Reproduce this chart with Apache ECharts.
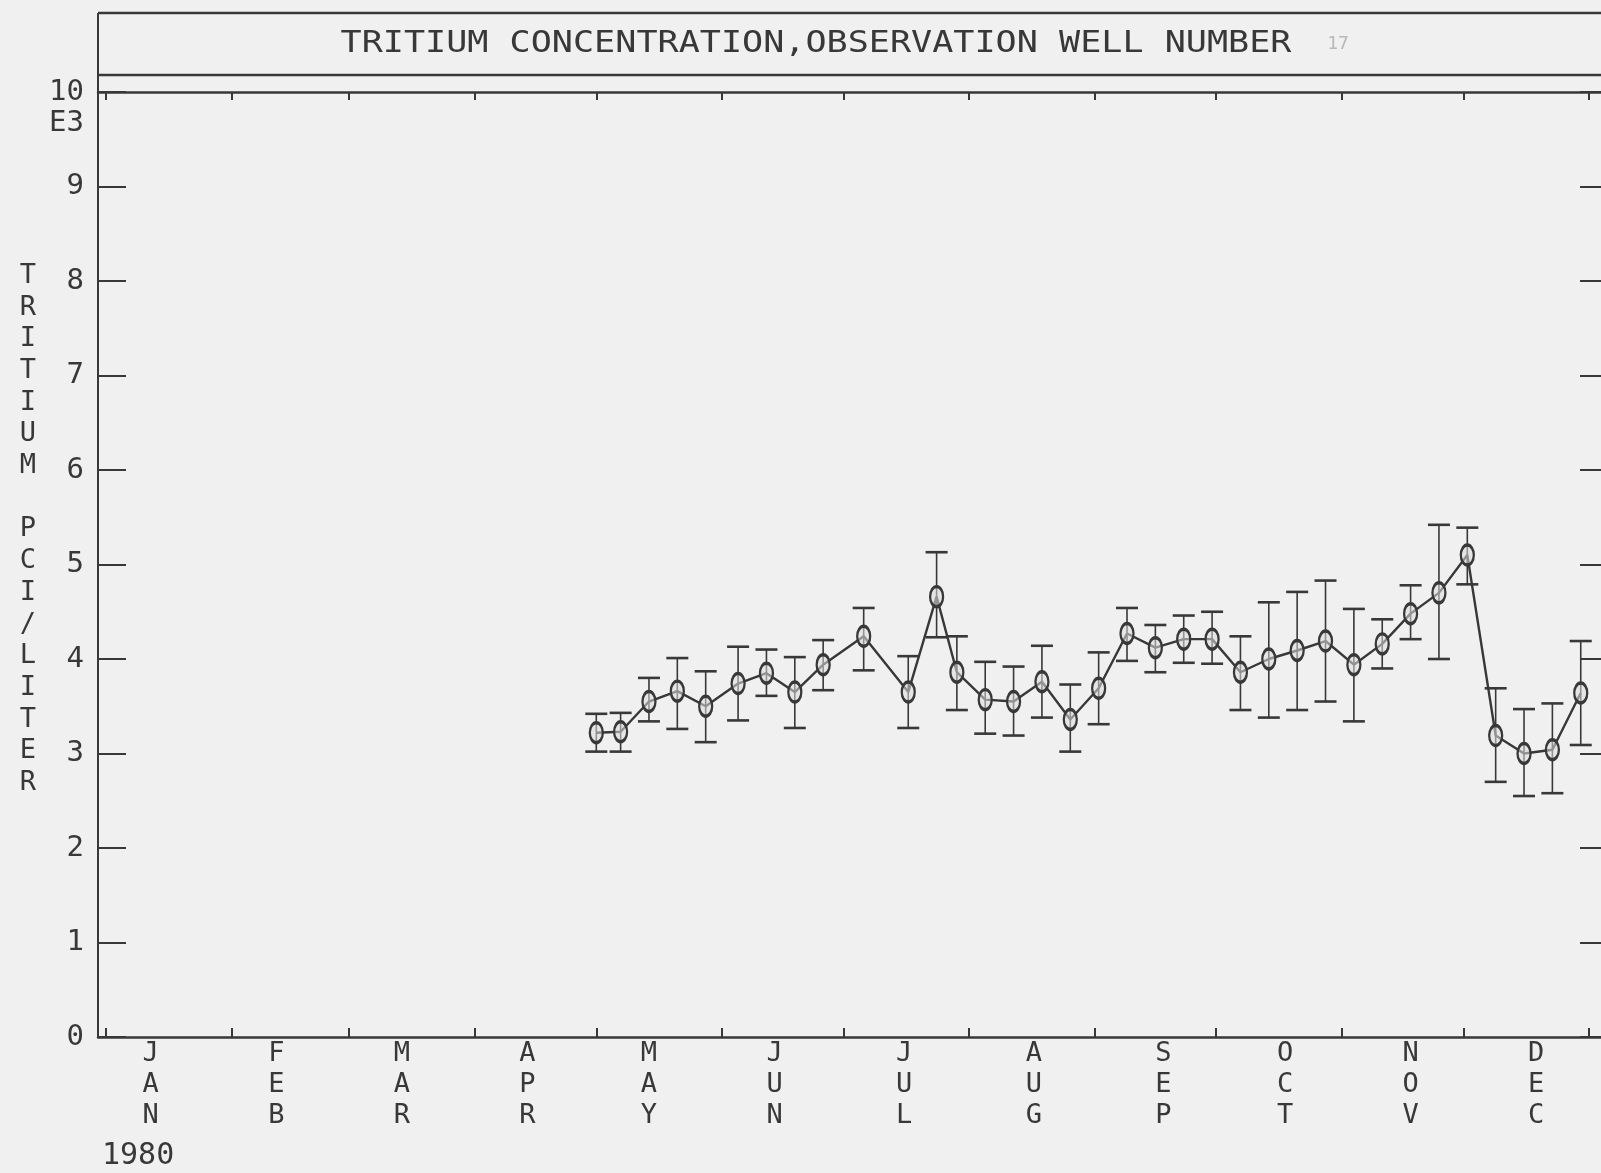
<!DOCTYPE html>
<html>
<head>
<meta charset="utf-8">
<script src="https://cdn.jsdelivr.net/npm/echarts@6/dist/echarts.min.js"></script>
<style>
  html, body { margin: 0; padding: 0; background: #f0f0f0; }
  #chart { width: 1601px; height: 1173px; }
</style>
</head>
<body>
<div id="chart"></div>
<script>
// Weekly tritium results for observation well 17, 1980 (units of 10E3 pCi/liter).
// Sample dates are day-of-year (0 = Jan 1).
const sampleDays = [121, 127, 134, 141, 148, 156, 163, 170, 177, 187, 198, 205,
  210, 217, 224, 231, 238, 245, 252, 259, 266, 273, 280, 287, 294, 301, 308,
  315, 322, 329, 336, 343, 350, 357, 364];
const tritium = [3.22, 3.23, 3.55, 3.66, 3.50, 3.74, 3.85, 3.65, 3.94, 4.24, 3.65, 4.66,
  3.86, 3.57, 3.55, 3.76, 3.36, 3.69, 4.27, 4.12, 4.21, 4.21, 3.86, 4.00, 4.09, 4.19,
  3.94, 4.16, 4.48, 4.70, 5.10, 3.19, 3.00, 3.04, 3.64];
const upperBound = [3.42, 3.43, 3.80, 4.01, 3.87, 4.13, 4.10, 4.02, 4.20, 4.54, 4.03, 5.13,
  4.24, 3.97, 3.92, 4.14, 3.73, 4.07, 4.54, 4.36, 4.46, 4.50, 4.24, 4.60, 4.71, 4.83,
  4.53, 4.42, 4.78, 5.42, 5.39, 3.69, 3.47, 3.53, 4.19];
const lowerBound = [3.02, 3.02, 3.34, 3.26, 3.12, 3.35, 3.61, 3.27, 3.67, 3.88, 3.27, 4.23,
  3.46, 3.21, 3.19, 3.38, 3.02, 3.31, 3.98, 3.86, 3.96, 3.95, 3.46, 3.38, 3.46, 3.55,
  3.34, 3.90, 4.21, 4.00, 4.79, 2.70, 2.55, 2.58, 3.09];

const monthNames = ['JAN', 'FEB', 'MAR', 'APR', 'MAY', 'JUN', 'JUL', 'AUG', 'SEP', 'OCT', 'NOV', 'DEC'];
const monthStartDays = [0, 31, 60, 91, 121, 152, 182, 213, 244, 274, 305, 335, 366];
const monthLabelDays = [11, 42, 73, 104, 134, 165, 197, 229, 261, 291, 322, 353];
const yearLabel = '1980';
const yMin = 0, yMax = 10, yStep = 1;

const titleText = 'TRITIUM CONCENTRATION,OBSERVATION WELL NUMBER';
const wellNumber = '17';
const yName = 'TRITIUM PCI/LITER';
const yUnit = 'E3';

// Day-by-day category axis so month ticks fall on real month boundaries.
const DAY_MIN = -2, DAY_MAX = 369;
const dayCats = [];
for (let d = DAY_MIN; d <= DAY_MAX; d++) dayCats.push(String(d));
const toIdx = d => d - DAY_MIN;

const INK = '#383838';
const MONO = '"DejaVu Sans Mono", monospace';

const lineData = sampleDays.map((d, i) => [toIdx(d), tritium[i]]);
const barData = sampleDays.map((d, i) => [toIdx(d), lowerBound[i], upperBound[i]]);

const chart = echarts.init(document.getElementById('chart'), null, { renderer: 'canvas' });

const isMonthStart = i => monthStartDays.indexOf(i + DAY_MIN) >= 0;
const isLabelDay = i => monthLabelDays.indexOf(i + DAY_MIN) >= 0;

chart.setOption({
  backgroundColor: '#f0f0f0',
  animation: false,
  grid: { left: 98, right: 0, top: 92, bottom: 136 },
  xAxis: [{
    type: 'category',
    data: dayCats,
    boundaryGap: false,
    position: 'bottom',
    axisLine: { onZero: false, lineStyle: { color: INK, width: 2.5 } },
    axisTick: { show: true, inside: true, length: 9, interval: isMonthStart,
      lineStyle: { color: INK, width: 2 } },
    axisLabel: {
      interval: isLabelDay,
      margin: 1,
      color: INK,
      fontFamily: MONO,
      fontSize: 27,
      lineHeight: 31,
      formatter: v => {
        const k = monthLabelDays.indexOf(Number(v));
        return k >= 0 ? monthNames[k].split('').join('\n') : '';
      }
    },
    splitLine: { show: false }
  }, {
    type: 'category',
    data: dayCats,
    boundaryGap: false,
    position: 'top',
    axisLine: { onZero: false, lineStyle: { color: INK, width: 2.5 } },
    axisTick: { show: true, inside: true, length: 8, interval: isMonthStart,
      lineStyle: { color: INK, width: 2 } },
    axisLabel: { show: false },
    splitLine: { show: false }
  }],
  yAxis: [{
    type: 'value',
    min: yMin, max: yMax, interval: yStep,
    position: 'left',
    axisLine: { show: true, lineStyle: { color: INK, width: 2 } },
    axisTick: { show: true, inside: true, length: 28, lineStyle: { color: INK, width: 2 } },
    axisLabel: { color: INK, fontFamily: MONO, fontSize: 29, margin: 14 },
    splitLine: { show: false }
  }, {
    type: 'value',
    min: yMin, max: yMax, interval: yStep,
    position: 'right',
    axisLine: { show: false },
    axisTick: { show: true, inside: true, length: 21, lineStyle: { color: INK, width: 2 } },
    axisLabel: { show: false },
    splitLine: { show: false }
  }],
  series: [{
    type: 'custom',
    name: 'uncertainty',
    data: barData,
    encode: { x: 0, y: [1, 2] },
    z: 2,
    renderItem: (params, api) => {
      const x = api.value(0);
      const lo = api.coord([x, api.value(1)]);
      const hi = api.coord([x, api.value(2)]);
      const cap = 11;
      const style = { stroke: INK, lineWidth: 1.6 };
      const capStyle = { stroke: INK, lineWidth: 2.6 };
      return {
        type: 'group',
        children: [
          { type: 'line', shape: { x1: lo[0], y1: lo[1], x2: hi[0], y2: hi[1] }, style },
          { type: 'line', shape: { x1: hi[0] - cap, y1: hi[1], x2: hi[0] + cap, y2: hi[1] }, style: capStyle },
          { type: 'line', shape: { x1: lo[0] - cap, y1: lo[1], x2: lo[0] + cap, y2: lo[1] }, style: capStyle }
        ]
      };
    }
  }, {
    type: 'line',
    name: 'tritium',
    data: lineData,
    z: 3,
    symbol: 'circle',
    symbolSize: [13, 20],
    showAllSymbol: true,
    lineStyle: { color: INK, width: 2.4 },
    itemStyle: { color: 'rgba(220,220,220,0.55)', borderColor: INK, borderWidth: 2.8 }
  }],
  graphic: [
    // title frame above the plot
    { type: 'line', shape: { x1: 98, y1: 13, x2: 1601, y2: 13 }, style: { stroke: INK, lineWidth: 2.5 } },
    { type: 'line', shape: { x1: 98, y1: 75, x2: 1601, y2: 75 }, style: { stroke: INK, lineWidth: 2.5 } },
    { type: 'line', shape: { x1: 98, y1: 13, x2: 98, y2: 92 }, style: { stroke: INK, lineWidth: 2 } },
    {
      type: 'text', x: 816, y: 44, scaleX: 1.17,
      style: { text: titleText, fill: INK, font: '30px ' + MONO, textAlign: 'center', textVerticalAlign: 'middle' }
    },
    {
      type: 'text', x: 1338, y: 44,
      style: { text: wellNumber, fill: '#b8b8b8', font: '18px ' + MONO, textAlign: 'center', textVerticalAlign: 'middle' }
    },
    {
      type: 'text', x: 84, y: 123,
      style: { text: yUnit, fill: INK, font: '29px ' + MONO, textAlign: 'right', textVerticalAlign: 'middle' }
    },
    {
      type: 'text', x: 28, y: 260,
      style: { text: yName.split('').join('\n'), fill: INK, font: '27px ' + MONO, lineHeight: 31.7,
        textAlign: 'center', textVerticalAlign: 'top' }
    },
    {
      type: 'text', x: 102, y: 1156,
      style: { text: yearLabel, fill: INK, font: '30px ' + MONO, textAlign: 'left', textVerticalAlign: 'middle' }
    }
  ]
});
</script>
</body>
</html>
